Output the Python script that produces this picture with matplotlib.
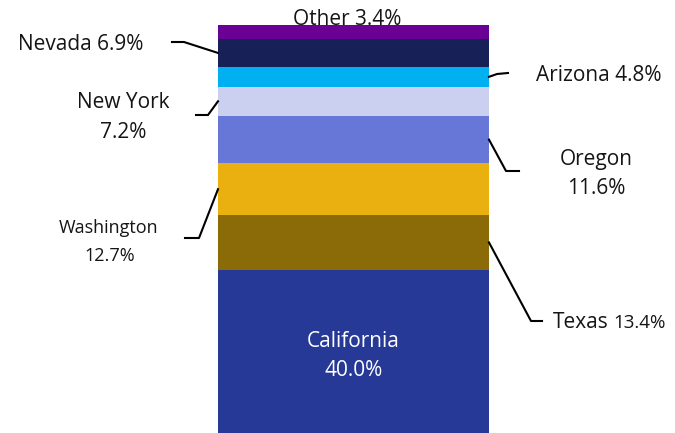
import matplotlib
matplotlib.use("Agg")
import matplotlib.pyplot as plt
from matplotlib.lines import Line2D
from matplotlib.transforms import IdentityTransform

plt.rcParams['font.family'] = ['Open Sans', 'DejaVu Sans']

states = ["California", "Texas", "Washington", "Oregon", "New York", "Arizona", "Nevada", "Other"]
shares = [40.0, 13.4, 12.7, 11.6, 7.2, 4.8, 6.9, 3.4]
colors = ["#263996", "#8B6A08", "#EAB010", "#6677D7", "#CBD0F0", "#00B0F0", "#182058", "#6B0094"]

W, H = 675, 433
fig = plt.figure(figsize=(W / 100, H / 100), dpi=100)
ax = fig.add_axes([218 / W, 0 / H, 271 / W, 408 / H])
bottom = 0.0
mids = {}
for s, v, c in zip(states, shares, colors):
    ax.bar(0, v, width=1.0, bottom=bottom, color=c, edgecolor="none")
    mids[s] = bottom + v / 2
    bottom += v
ax.set_xlim(-0.5, 0.5)
ax.set_ylim(0, sum(shares))
ax.axis("off")

fig.canvas.draw()
ident = IdentityTransform()
TXT = "#151515"


def leader(state, side, corner, end):
    edge = -0.5 if side == "left" else 0.5
    bx, by = ax.transData.transform((edge, mids[state]))
    fig.add_artist(Line2D([bx, corner[0], end[0]], [by, H - corner[1], H - end[1]],
                          color="black", lw=1.5, transform=ident))


def label(x, base_img, text, size=15, ha="center", color=TXT):
    fig.text(x, H - base_img, text, transform=ident, ha=ha, va="baseline",
             fontsize=size, color=color)


share = dict(zip(states, shares))

# Nevada
leader("Nevada", "left", (184, 42), (172, 42))
label(143, 50, f"Nevada {share['Nevada']:.1f}%", ha="right")
# New York
leader("New York", "left", (208, 115), (196, 115))
label(123, 108, "New York")
label(123, 138, f"{share['New York']:.1f}%")
# Washington
leader("Washington", "left", (199, 238), (185, 238))
label(109, 233, "Washington", size=13)
label(110, 261, f"{share['Washington']:.1f}%", size=13)
# Arizona
leader("Arizona", "right", (497, 74), (508, 73))
label(536, 81, f"Arizona {share['Arizona']:.1f}%", ha="left")
# Oregon
leader("Oregon", "right", (506, 171), (519, 171))
label(596, 165, "Oregon")
label(596, 194, f"{share['Oregon']:.1f}%")
# Texas
leader("Texas", "right", (531, 321), (542, 321))
label(553, 328, "Texas", ha="left")
label(613, 328, f"{share['Texas']:.1f}%", size=13.5, ha="left")
# Other
label(347, 25, f"Other {share['Other']:.1f}%")
# California
cx = ax.transData.transform((0, 0))[0]
label(cx, 347, "California", color="white")
label(cx, 376, f"{share['California']:.1f}%", color="white")

fig.savefig("out.png", dpi=100)
